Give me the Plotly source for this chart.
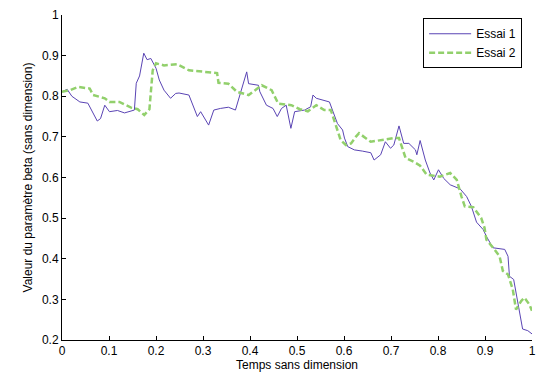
import plotly.graph_objects as go

# Essai 1 : temps sans dimension / valeur de beta
t1 = [0.000, 0.011, 0.021, 0.038, 0.055, 0.075, 0.082, 0.091, 0.101, 0.118,
      0.133, 0.154, 0.158, 0.165, 0.174, 0.181, 0.189, 0.200, 0.207, 0.217,
      0.231, 0.242, 0.249, 0.270, 0.288, 0.295, 0.312, 0.323, 0.337, 0.354,
      0.369, 0.379, 0.393, 0.397, 0.418, 0.421, 0.435, 0.449, 0.458, 0.467,
      0.477, 0.487, 0.495, 0.516, 0.529, 0.534, 0.541, 0.569, 0.580, 0.586,
      0.597, 0.601, 0.608, 0.622, 0.639, 0.657, 0.664, 0.678, 0.688, 0.699,
      0.706, 0.713, 0.717, 0.724, 0.727, 0.738, 0.745, 0.752, 0.755, 0.762,
      0.773, 0.783, 0.791, 0.801, 0.812, 0.826, 0.847, 0.861, 0.871, 0.882,
      0.896, 0.903, 0.917, 0.942, 0.949, 0.952, 0.961, 0.970, 0.977, 0.980,
      0.991, 1.000]
beta1 = [0.811, 0.817, 0.800, 0.786, 0.783, 0.739, 0.745, 0.778, 0.762, 0.765,
         0.759, 0.766, 0.832, 0.850, 0.906, 0.890, 0.893, 0.869, 0.840, 0.815,
         0.795, 0.807, 0.808, 0.803, 0.750, 0.762, 0.729, 0.766, 0.770, 0.773,
         0.766, 0.803, 0.860, 0.831, 0.827, 0.811, 0.778, 0.770, 0.750, 0.770,
         0.778, 0.721, 0.762, 0.766, 0.774, 0.803, 0.795, 0.786, 0.750, 0.733,
         0.717, 0.697, 0.676, 0.668, 0.665, 0.661, 0.643, 0.656, 0.688, 0.672,
         0.680, 0.713, 0.727, 0.697, 0.684, 0.684, 0.676, 0.668, 0.656, 0.691,
         0.643, 0.611, 0.594, 0.619, 0.598, 0.582, 0.572, 0.553, 0.529, 0.490,
         0.472, 0.455, 0.427, 0.423, 0.406, 0.357, 0.349, 0.292, 0.255, 0.227,
         0.223, 0.215]

# Essai 2
t2 = [0.000, 0.017, 0.034, 0.059, 0.066, 0.091, 0.101, 0.122, 0.147, 0.161,
      0.175, 0.186, 0.193, 0.200, 0.217, 0.245, 0.270, 0.330, 0.333, 0.354,
      0.372, 0.397, 0.425, 0.446, 0.460, 0.488, 0.506, 0.523, 0.541, 0.558,
      0.572, 0.583, 0.593, 0.604, 0.615, 0.625, 0.632, 0.657, 0.706, 0.717,
      0.731, 0.748, 0.762, 0.776, 0.804, 0.826, 0.840, 0.850, 0.857, 0.875,
      0.892, 0.899, 0.903, 0.920, 0.931, 0.938, 0.949, 0.959, 0.966, 0.977,
      0.984, 0.994, 1.000]
beta2 = [0.811, 0.815, 0.823, 0.819, 0.803, 0.795, 0.786, 0.786, 0.772, 0.768,
         0.754, 0.768, 0.864, 0.881, 0.876, 0.879, 0.864, 0.857, 0.833, 0.831,
         0.811, 0.803, 0.827, 0.815, 0.782, 0.778, 0.768, 0.763, 0.778, 0.766,
         0.766, 0.725, 0.692, 0.680, 0.684, 0.700, 0.709, 0.688, 0.697, 0.697,
         0.648, 0.639, 0.629, 0.607, 0.602, 0.611, 0.594, 0.553, 0.529, 0.527,
         0.500, 0.476, 0.447, 0.423, 0.406, 0.370, 0.361, 0.325, 0.275, 0.296,
         0.304, 0.288, 0.272]

x_ticks = [0, 0.1, 0.2, 0.3, 0.4, 0.5, 0.6, 0.7, 0.8, 0.9, 1]
y_ticks = [0.2, 0.3, 0.4, 0.5, 0.6, 0.7, 0.8, 0.9, 1]

font = dict(family="Liberation Sans, Arial, sans-serif", size=12, color="black")

fig = go.Figure()
fig.add_trace(go.Scatter(x=t1, y=beta1, mode="lines", name="Essai 1",
                         line=dict(color="#5a44b4", width=1)))
fig.add_trace(go.Scatter(x=t2, y=beta2, mode="lines", name="Essai 2",
                         line=dict(color="#92d06c", width=2.5, dash="6px,3px")))

axis_common = dict(showgrid=False, zeroline=False, showline=True,
                   linecolor="black", linewidth=1, ticks="inside", ticklen=4,
                   tickcolor="black", tickfont=font, mirror=False)

fig.update_layout(
    width=542, height=376,
    margin=dict(l=62, r=6, t=15, b=35),
    paper_bgcolor="white", plot_bgcolor="white",
    font=font,
    xaxis=dict(range=[0, 1], tickvals=x_ticks,
               ticktext=[f"{v:g}" for v in x_ticks],
               title=dict(text="Temps sans dimension", font=font, standoff=3),
               **axis_common),
    yaxis=dict(range=[0.2, 1], tickvals=y_ticks,
               ticktext=[f"{v:g}" for v in y_ticks],
               title=dict(text="Valeur du paramètre beta (sans dimension)",
                          font=font, standoff=6),
               **axis_common),
    legend=dict(x=0.979, y=0.99, xanchor="right", yanchor="top",
                bgcolor="white", bordercolor="black", borderwidth=1,
                font=font, tracegroupgap=0, itemwidth=42),
    showlegend=True,
)

fig.write_html("out.html")
